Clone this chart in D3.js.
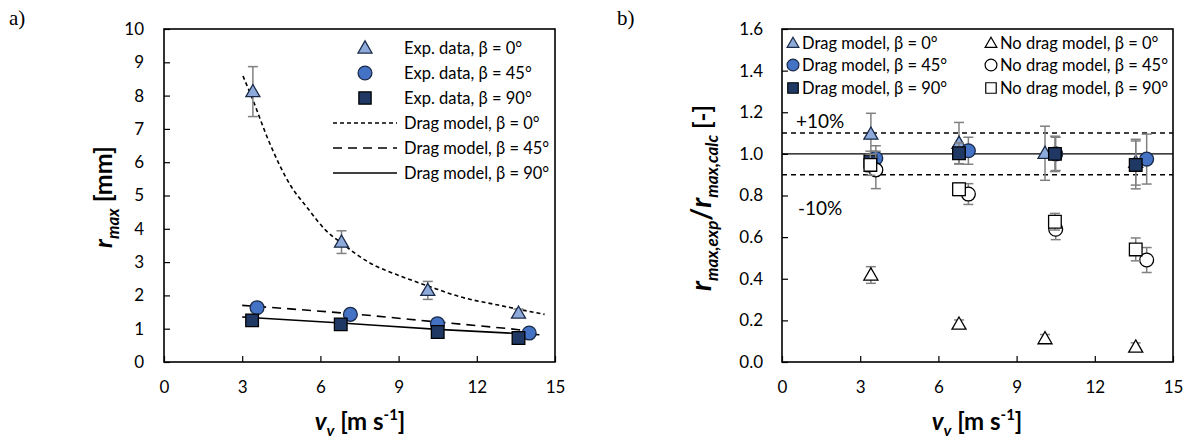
<!DOCTYPE html>
<html>
<head>
<meta charset="utf-8">
<script src="https://cdn.jsdelivr.net/npm/d3@7"></script>
<style>
  body { margin: 0; background: #fff; }
  svg { font-family: Lato, "Noto Sans", sans-serif; }
</style>
</head>
<body>
<div id="chart"></div>
<script>
/*
 a) r_max vs v_v, exp data + drag model
 b) r_max,exp / r_max,calc vs v_v
*/

// ---- panel a data ----
var expX0  = [3.41, 6.81, 10.12, 13.6];
var expY0  = [8.12, 3.6, 2.15, 1.47];
var expE0  = [0.75, 0.34, 0.27, 0.12];
var expX45 = [3.57, 7.15, 10.49, 14.01];
var expY45 = [1.63, 1.43, 1.15, 0.87];
var expX90 = [3.38, 6.78, 10.5, 13.6];
var expY90 = [1.25, 1.13, 0.9, 0.72];

// drag model curves
var dragX0  = [3.03, 3.41, 4.0, 4.88, 5.47, 6.2, 6.83, 7.82, 9.14, 10.14, 11.35, 12.82, 13.62, 14.6];
var dragY0  = [8.59, 7.87, 6.67, 5.27, 4.66, 3.96, 3.56, 3.01, 2.56, 2.28, 1.96, 1.71, 1.58, 1.43];
var dragX45 = [3.0, 7.15, 10.5, 13.6, 14.4];
var dragY45 = [1.70, 1.45, 1.2, 0.97, 0.90];
var dragX90 = [3.0, 6.8, 10.5, 14.4];
var dragY90 = [1.35, 1.17, 0.98, 0.82];

var legendA = ['Exp. data, β = 0°', 'Exp. data, β = 45°', 'Exp. data, β = 90°',
               'Drag model, β = 0°', 'Drag model, β = 45°', 'Drag model, β = 90°'];

// ---- panel b data ----
var ratX0  = [3.41, 6.79, 10.09, 13.57];
var ratX45 = [3.6, 7.15, 10.5, 13.99];
var ratX90 = [3.39, 6.79, 10.47, 13.57];

var dragR0   = [1.095, 1.051, 1.003, 0.96];
var dragRE0  = [0.10, 0.10, 0.13, 0.11];
var dragR45  = [0.979, 1.015, 1.0, 0.975];
var dragRE45 = [0.06, 0.065, 0.08, 0.12];
var dragR90  = [0.963, 1.003, 1.0, 0.947];
var dragRE90 = [0.05, 0.05, 0.085, 0.115];

var noR0   = [0.418, 0.182, 0.112, 0.072];
var noRE0  = [0.04, 0.02, 0.02, 0.02];
var noR45  = [0.923, 0.807, 0.638, 0.49];
var noRE45 = [0.09, 0.05, 0.05, 0.06];
var noR90  = [0.947, 0.83, 0.674, 0.541];
var noRE90 = [0.05, 0.03, 0.04, 0.055];

var legendB1 = ['Drag model, β = 0°', 'Drag model, β = 45°', 'Drag model, β = 90°'];
var legendB2 = ['No drag model, β = 0°', 'No drag model, β = 45°', 'No drag model, β = 90°'];

var xTicks  = [0, 3, 6, 9, 12, 15];
var yTicksA = [0, 1, 2, 3, 4, 5, 6, 7, 8, 9, 10];
var yTicksB = [0, 0.2, 0.4, 0.6, 0.8, 1.0, 1.2, 1.4, 1.6];
var bandB   = [0.9, 1.0, 1.1];

// colours
var cTri = '#8eaadb', cCir = '#4472c4', cSq = '#1f3864', cEdge = '#1b2a48', cErr = '#808080';

function zip(xs, ys, es){
    return xs.map(function(x, i){ return {x: x, y: ys[i], e: es ? es[i] : 0}; });
}

var svg = d3.select('#chart').append('svg')
            .attr('width', 1192)
            .attr('height', 443);

function frame(g, x, y, yTicks, yFmt, pad){
    var w = x.range()[1] - x.range()[0];
    var h = y.range()[0] - y.range()[1];

    g.append('g')
     .attr('transform', 'translate(0,' + h + ')')
     .call(d3.axisBottom(x).tickValues(xTicks).tickSizeInner(-6).tickSizeOuter(0).tickPadding(19))
     .call(function(a){ a.select('.domain').remove(); });

    g.append('g')
     .call(d3.axisLeft(y).tickValues(yTicks).tickFormat(yFmt).tickSizeInner(-6).tickSizeOuter(0).tickPadding(pad))
     .call(function(a){ a.select('.domain').remove(); });

    g.selectAll('.tick text').attr('font-family', 'Lato, sans-serif').attr('font-size', 17).attr('fill', '#000');
    g.selectAll('.tick line').attr('stroke', '#000').attr('stroke-width', 1.2);

    g.append('rect')
     .attr('width', w).attr('height', h)
     .attr('fill', 'none').attr('stroke', '#000').attr('stroke-width', 1.6);
}

function errBars(g, data, x, y){
    var eb = g.append('g').attr('stroke', cErr).attr('stroke-width', 1.5).attr('fill', 'none');
    data.forEach(function(d){
        if(!d.e) return;
        var cx = x(d.x), t = y(d.y + d.e), b = y(d.y - d.e);
        eb.append('line').attr('x1', cx).attr('x2', cx).attr('y1', t).attr('y2', b);
        eb.append('line').attr('x1', cx - 5).attr('x2', cx + 5).attr('y1', t).attr('y2', t);
        eb.append('line').attr('x1', cx - 5).attr('x2', cx + 5).attr('y1', b).attr('y2', b);
    });
}

function markers(g, data, x, y, type, size, fill, stroke){
    g.append('g').selectAll('path')
     .data(data)
     .enter().append('path')
       .attr('transform', function(d){
           var dy = type === d3.symbolTriangle ? 1 : 0;
           return 'translate(' + x(d.x) + ',' + (y(d.y) + dy) + ')';
       })
       .attr('d', d3.symbol().type(type).size(size))
       .attr('fill', fill)
       .attr('stroke', stroke)
       .attr('stroke-width', 1.3);
}

/**** panel a ****/
var gA = svg.append('g').attr('transform', 'translate(164,29)');
var xA = d3.scaleLinear().domain([0, 15]).range([0, 391]);
var yA = d3.scaleLinear().domain([0, 10]).range([333, 0]);

frame(gA, xA, yA, yTicksA, d3.format('d'), 20);

var line = d3.line().x(function(d){ return xA(d.x); }).y(function(d){ return yA(d.y); });

gA.append('path').datum(zip(dragX0, dragY0))
  .attr('d', line.curve(d3.curveMonotoneX))
  .attr('fill', 'none').attr('stroke', '#000').attr('stroke-width', 1.6).attr('stroke-dasharray', '4,3');
gA.append('path').datum(zip(dragX45, dragY45))
  .attr('d', line.curve(d3.curveMonotoneX))
  .attr('fill', 'none').attr('stroke', '#000').attr('stroke-width', 1.6).attr('stroke-dasharray', '9,6');
gA.append('path').datum(zip(dragX90, dragY90))
  .attr('d', line.curve(d3.curveMonotoneX))
  .attr('fill', 'none').attr('stroke', '#000').attr('stroke-width', 1.6);

var a0 = zip(expX0, expY0, expE0);
errBars(gA, a0, xA, yA);
markers(gA, a0, xA, yA, d3.symbolTriangle, 85, cTri, cEdge);
markers(gA, zip(expX45, expY45), xA, yA, d3.symbolCircle, 150, cCir, cEdge);
markers(gA, zip(expX90, expY90), xA, yA, d3.symbolSquare, 160, cSq, '#000');

// legend a
var legA = svg.append('g');
var rowsA = [48, 73, 98, 123, 148, 173];
var legSym = [d3.symbolTriangle, d3.symbolCircle, d3.symbolSquare];
var legFill = [cTri, cCir, cSq];
var legDash = ['4,3', '9,6', null];
legendA.forEach(function(t, i){
    if(i < 3){
        legA.append('path')
            .attr('transform', 'translate(365,' + (rowsA[i] + (i === 0 ? 1 : 0)) + ')')
            .attr('d', d3.symbol().type(legSym[i]).size(i === 0 ? 85 : 150))
            .attr('fill', legFill[i]).attr('stroke', i === 2 ? '#000' : cEdge).attr('stroke-width', 1.3);
    } else {
        legA.append('line')
            .attr('x1', 333).attr('x2', 397).attr('y1', rowsA[i]).attr('y2', rowsA[i])
            .attr('stroke', '#000').attr('stroke-width', 1.6)
            .attr('stroke-dasharray', legDash[i - 3]);
    }
    legA.append('text').attr('x', 404).attr('y', rowsA[i] + 6)
        .attr('font-size', 16.5).text(t);
});

/**** panel b ****/
var gB = svg.append('g').attr('transform', 'translate(782,29)');
var xB = d3.scaleLinear().domain([0, 15]).range([0, 391]);
var yB = d3.scaleLinear().domain([0, 1.6]).range([333, 0]);

frame(gB, xB, yB, yTicksB, d3.format('.1f'), 19);

gB.append('g').selectAll('line')
  .data(bandB)
  .enter().append('line')
    .attr('x1', 0).attr('x2', 391)
    .attr('y1', function(d){ return yB(d); })
    .attr('y2', function(d){ return yB(d); })
    .attr('stroke', '#000').attr('stroke-width', 1.4)
    .attr('stroke-dasharray', function(d){ return d === 1.0 ? null : '5,4'; });

gB.append('text').attr('x', 14).attr('y', 99).attr('font-size', 19).text('+10%');
gB.append('text').attr('x', 16).attr('y', 186).attr('font-size', 19).text('-10%');

var b0  = zip(ratX0, dragR0, dragRE0),  b45 = zip(ratX45, dragR45, dragRE45), b90 = zip(ratX90, dragR90, dragRE90);
var n0  = zip(ratX0, noR0, noRE0),      n45 = zip(ratX45, noR45, noRE45),      n90 = zip(ratX90, noR90, noRE90);

errBars(gB, b0, xB, yB);
markers(gB, b0, xB, yB, d3.symbolTriangle, 85, cTri, cEdge);
errBars(gB, b45, xB, yB);
markers(gB, b45, xB, yB, d3.symbolCircle, 150, cCir, cEdge);
errBars(gB, b90, xB, yB);
markers(gB, b90, xB, yB, d3.symbolSquare, 160, cSq, '#000');
errBars(gB, n0, xB, yB);
markers(gB, n0, xB, yB, d3.symbolTriangle, 85, '#fff', '#000');
errBars(gB, n45, xB, yB);
markers(gB, n45, xB, yB, d3.symbolCircle, 150, '#fff', '#000');
errBars(gB, n90, xB, yB);
markers(gB, n90, xB, yB, d3.symbolSquare, 160, '#fff', '#000');

// legend b
var legB = svg.append('g');
var rowsB = [43, 65, 88];
legendB1.forEach(function(t, i){
    legB.append('path')
        .attr('transform', 'translate(793,' + (rowsB[i] + (i === 0 ? 1 : 0)) + ')')
        .attr('d', d3.symbol().type(legSym[i]).size(i === 0 ? 60 : 110))
        .attr('fill', legFill[i]).attr('stroke', i === 2 ? '#000' : cEdge).attr('stroke-width', 1.2);
    legB.append('text').attr('x', 802).attr('y', rowsB[i] + 6).attr('font-size', 16.5).text(t);
});
legendB2.forEach(function(t, i){
    legB.append('path')
        .attr('transform', 'translate(991,' + (rowsB[i] + (i === 0 ? 1 : 0)) + ')')
        .attr('d', d3.symbol().type(legSym[i]).size(i === 0 ? 60 : 110))
        .attr('fill', '#fff').attr('stroke', '#000').attr('stroke-width', 1.2);
    legB.append('text').attr('x', 1000).attr('y', rowsB[i] + 6).attr('font-size', 16.5).text(t);
});

/**** titles ****/
function xTitle(cx){
    var t = svg.append('text').attr('x', cx).attr('y', 430)
               .attr('text-anchor', 'middle').attr('font-size', 24).attr('font-weight', 'bold');
    t.append('tspan').attr('font-style', 'italic').text('v');
    t.append('tspan').attr('font-style', 'italic').attr('font-size', 16).attr('dy', 6).text('v');
    t.append('tspan').attr('dy', -6).text(' [m s');
    t.append('tspan').attr('font-size', 15).attr('dy', -10).text('-1');
    t.append('tspan').attr('dy', 10).text(']');
}
xTitle(360);
xTitle(977);

var tA = svg.append('text').attr('transform', 'translate(112,197) rotate(-90)')
            .attr('text-anchor', 'middle').attr('font-size', 25).attr('font-weight', 'bold');
tA.append('tspan').attr('font-style', 'italic').text('r');
tA.append('tspan').attr('font-style', 'italic').attr('font-size', 17).attr('dy', 7).text('max');
tA.append('tspan').attr('dy', -7).text(' [mm]');

var tB = svg.append('text').attr('transform', 'translate(711,198) rotate(-90)')
            .attr('text-anchor', 'middle').attr('font-size', 28).attr('font-weight', 'bold');
tB.append('tspan').attr('font-style', 'italic').text('r');
tB.append('tspan').attr('font-style', 'italic').attr('font-size', 17).attr('dy', 7).text('max,exp');
tB.append('tspan').attr('dy', -7).text('/');
tB.append('tspan').attr('font-style', 'italic').text('r');
tB.append('tspan').attr('font-style', 'italic').attr('font-size', 17).attr('dy', 7).text('max,calc');
tB.append('tspan').attr('dy', -7).attr('font-size', 24).text(' [-]');

// panel letters
svg.append('text').attr('x', 9).attr('y', 25).attr('font-family', '"Liberation Serif", serif')
   .attr('font-size', 21).text('a)');
svg.append('text').attr('x', 617).attr('y', 25).attr('font-family', '"Liberation Serif", serif')
   .attr('font-size', 21).text('b)');
</script>
</body>
</html>
